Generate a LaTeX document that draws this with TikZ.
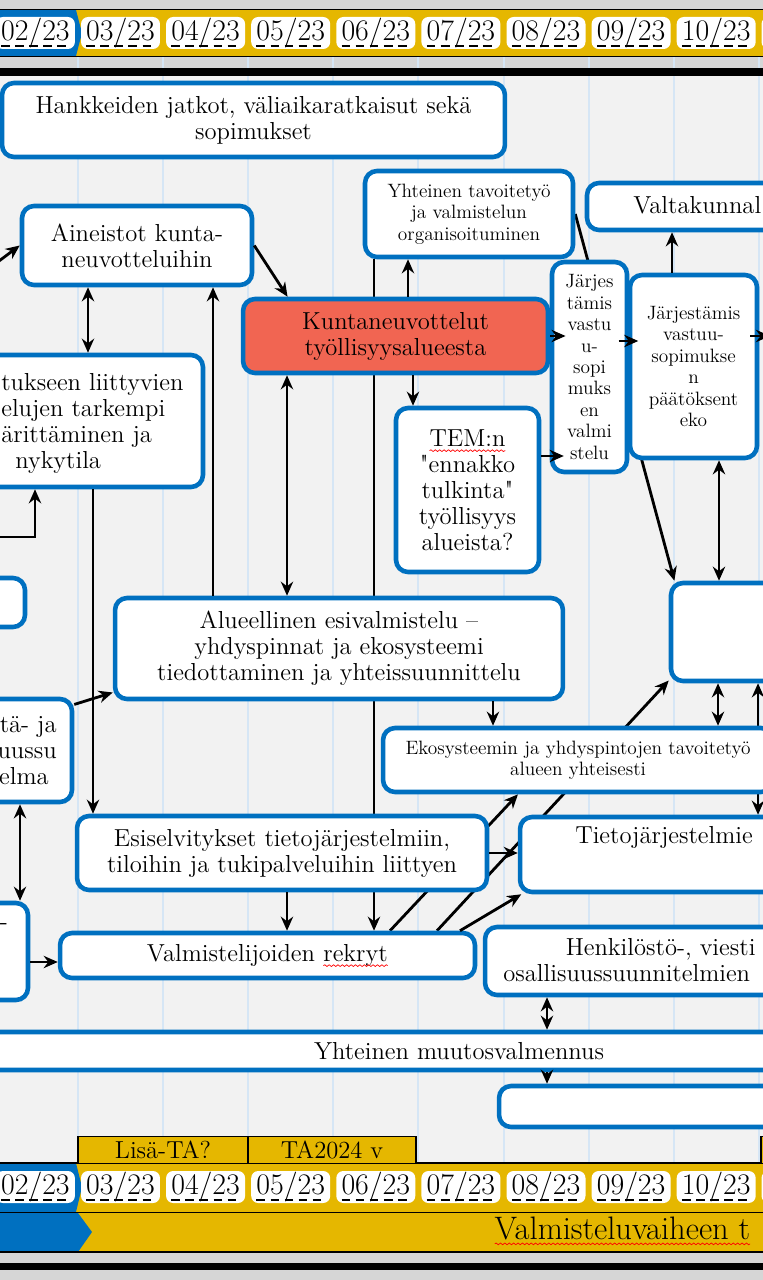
\documentclass[tikz,border=0pt]{standalone}
\usetikzlibrary{arrows.meta,decorations.pathmorphing}
\definecolor{boxblue}{RGB}{0,112,192}
\definecolor{kred}{RGB}{241,101,82}
\definecolor{gold}{RGB}{229,183,0}
\definecolor{paper}{RGB}{242,242,242}
\definecolor{framegray}{RGB}{214,214,214}
\definecolor{gridblue}{RGB}{214,230,245}
\newcommand{\bigtxt}{\fontsize{14}{14.8}\selectfont}
\newcommand{\smalltxt}{\fontsize{11}{12.2}\selectfont}
\newcommand{\datetxt}{\fontsize{17}{17}\selectfont}
\newcommand{\bandtxt}{\fontsize{18.5}{20}\selectfont}
\newcommand{\spellwave}[1]{\tikz[baseline=(sw.base)]{\node[draw=none, fill=none, inner sep=0pt, outer sep=0pt, minimum size=0pt, anchor=base, rounded corners=0pt] (sw) at (0,0) {#1};
    \draw[red, line width=0.4pt, solid, rounded corners=0pt, decorate, decoration={snake, amplitude=0.5pt, segment length=2.5pt}] ([yshift=-2.5pt]sw.base west) -- ([yshift=-2.5pt]sw.base east);}}
\pgfdeclarelayer{bg}
\pgfdeclarelayer{back}
\pgfsetlayers{bg,back,main}
\begin{document}
\begin{tikzpicture}[x=0.02cm, y=-0.02cm, >={Stealth[length=8pt,width=7pt]},
    box/.style={draw=boxblue, line width=2.6pt, fill=white, rounded corners=0.24cm, align=center, inner sep=1pt, font=\bigtxt},
    redbox/.style={box, fill=kred},
    arr/.style={line width=1.6pt},
    tab/.style={fill=white, rounded corners=4pt, minimum width=1.58cm, minimum height=0.64cm, inner sep=0pt, font=\datetxt,
        path picture={\draw[dash pattern=on 5pt off 3pt, line width=1.1pt] ([xshift=3pt,yshift=1.5pt]path picture bounding box.south west) -- ([xshift=-3pt,yshift=1.5pt]path picture bounding box.south east);}},
    budget/.style={draw, fill=gold, line width=0.8pt, minimum height=0.54cm, inner sep=0pt, font=\bigtxt}]
    \useasboundingbox (0,0) rectangle (763,1280);
    \begin{pgfonlayer}{bg}
    \fill[framegray] (0,0) rectangle (763,1280);
    \fill[paper] (0,74) rectangle (763,1252);
    \foreach \x in {78,163,248,333,418,504,589,674,759}
        \draw[gridblue, line width=1.5pt] (\x,57) -- (\x,1163);
    \end{pgfonlayer}

    \fill[gold] (0,10) rectangle (763,56);
    \fill[boxblue] (0,10) -- (76,10) -- (82,33) -- (76,56) -- (0,56) -- cycle;
    \draw[line width=0.6pt] (0,9.5) -- (763,9.5) (0,56.5) -- (763,56.5);
    \draw[line width=4pt] (0,72) -- (763,72);
    \fill[gold] (0,1163) rectangle (763,1252);
    \fill[boxblue] (0,1163) -- (76,1163) -- (82,1187) -- (76,1212) -- (0,1212) -- cycle;
    \fill[boxblue] (0,1213) -- (78,1213) -- (92,1232) -- (78,1252) -- (0,1252) -- cycle;
    \draw[line width=0.6pt] (0,1163) -- (763,1163) (0,1212.5) -- (763,1212.5) (0,1252) -- (763,1252);
    \draw[line width=4pt] (0,1266) -- (763,1266);
    \foreach \m [count=\i from 0] in {02,03,04,05,06,07,08,09,10} {
        \node[tab] (top\m) at ({35.4+85.1*\i},33) {\m/23};
        \node[tab] (bot\m) at ({35.4+85.1*\i},1187) {\m/23};
    }
    \node[tab] (top11) at (801,33) {};
    \node[tab] (bot11) at (801,1187) {};
    \node[font=\bandtxt, anchor=west, inner sep=0pt] (phase) at (494,1231) {\spellwave{Valmisteluvaiheen t}};
    \node[budget, minimum width=3.4cm] (lisa) at (163,1150) {Lisä-TA?};
    \node[budget, minimum width=3.36cm] (ta24) at (332,1150) {TA2024 v};
    \node[budget, minimum width=3.4cm] (tanext) at (846,1150) {};

    \node[box, minimum width=10.06cm, minimum height=1.48cm] (hank) at (253.5,120) {Hankkeiden jatkot, väliaikaratkaisut sekä\\sopimukset};
    \node[box, minimum width=4.6cm, minimum height=1.58cm] (aine) at (137,245.5) {Aineistot kunta-\\neuvotteluihin};
    \node[redbox, minimum width=6.1cm, minimum height=1.48cm] (kunta) at (395.5,336) {Kuntaneuvottelut\\työllisyysalueesta};
    \node[box, font=\smalltxt, minimum width=4.16cm, minimum height=1.72cm] (yhtt) at (469,214) {Yhteinen tavoitetyö\\ja valmistelun\\organisoituminen};
    \node[box, minimum width=4.26cm, minimum height=0.94cm] (valta) at (693.5,206.5) {};
    \node[font=\bigtxt, anchor=west, inner sep=0pt] (valtatxt) at (633,205) {Valtakunnal};
    \node[box, font=\smalltxt, minimum width=1.5cm, minimum height=4.2cm] (jarjes) at (589.5,367) {Järjes\\tämis\\vastu\\u-\\sopi\\muks\\en\\valmi\\stelu};
    \node[box, font=\smalltxt, minimum width=2.54cm, minimum height=3.66cm] (jpaat) at (693.5,366.5) {Järjestämis\\vastuu-\\sopimukse\\n\\päätöksent\\eko};
    \node[box, minimum width=2.86cm, minimum height=3.28cm] (tem) at (467.5,490) {\spellwave{TEM:n}\\\textquotedbl ennakko\\tulkinta\textquotedbl\\työllisyys\\alueista?};
    \node[box, minimum width=5.26cm, minimum height=2.64cm] (leftA) at (71.5,421) {};
    \node[font=\bigtxt, anchor=west, align=left, inner sep=0pt] (leftAtxt) at (1,423) {tukseen liittyvien\\elujen tarkempi\\ärittäminen ja\\\hspace*{0.28cm}nykytila};
    \node[box, minimum width=1.7cm, minimum height=0.98cm] (leftB) at (-17.5,602.5) {};
    \node[box, minimum width=2.64cm, minimum height=2.06cm] (leftC) at (6,750.5) {};
    \node[font=\bigtxt, anchor=east, align=right, inner sep=0pt] (leftCtxt) at (57,751) {tä- ja\\uussu\\elma\hspace*{0.16cm}};
    \node[box, minimum width=1.76cm, minimum height=1.94cm] (leftD) at (-16,951.5) {};
    \node[font=\bigtxt, inner sep=0pt] (leftDtxt) at (4,927) {-};
    \node[box, minimum width=8.96cm, minimum height=2.02cm] (alue) at (339,648.5) {Alueellinen esivalmistelu --\\yhdyspinnat ja ekosysteemi\\tiedottaminen ja yhteissuunnittelu};
    \node[box, minimum width=2.58cm, minimum height=1.96cm] (empR) at (735.5,632) {};
    \node[box, font=\smalltxt, minimum width=7.8cm, minimum height=1.28cm] (eko) at (578,760) {Ekosysteemin ja yhdyspintojen tavoitetyö\\alueen yhteisesti};
    \node[box, minimum width=8.2cm, minimum height=1.48cm] (esi) at (282,853) {Esiselvitykset tietojärjestelmiin,\\tiloihin ja tukipalveluihin liittyen};
    \node[box, minimum width=5.6cm, minimum height=1.5cm] (tieto) at (660,854.5) {};
    \node[font=\bigtxt, anchor=west, inner sep=0pt] (tietotxt) at (575,837) {Tietojärjestelmie};
    \node[box, minimum width=8.3cm, minimum height=0.9cm] (valm) at (267.5,955.5) {Valmistelijoiden \spellwave{rekryt}};
    \node[box, minimum width=6.3cm, minimum height=1.36cm] (henk) at (642.5,961) {};
    \node[font=\bigtxt, anchor=west, align=left, inner sep=0pt] (henktxt) at (503,960) {\hspace*{1.25cm}Henkilöstö-, viesti\\osallisuussuunnitelmien};
    \node[box, minimum width=19.16cm, minimum height=0.76cm] (muutos) at (459,1051) {Yhteinen muutosvalmennus};
    \node[box, minimum width=6.02cm, minimum height=0.82cm] (empB) at (649.5,1106.5) {};

    \coordinate (inA) at (-1,261);
    \coordinate (inB) at (-1,537);
    \coordinate (outR) at (770,336);

    \draw[arr,->] (inA) -- (aine.west);
    \draw[arr,->] (aine.east) -- (kunta.160);
    \draw[arr,<->] (aine.south -| 88,0) -- (leftA.north -| 88,0);
    \draw[arr,->] (alue.north -| 213,0) -- (aine.south -| 213,0);
    \draw[arr,<->] (kunta.south -| 287,0) -- (alue.north -| 287,0);
    \draw[arr,->] (kunta.east) -- ([xshift=9pt]kunta.east -| jarjes.west);
    \draw[arr,->] (kunta.north -| 408,0) -- (yhtt.south -| 408,0);
    \draw[arr,->] (kunta.south -| 413,0) -- (tem.north -| 413,0);
    \draw[arr,->] (tem.east |- 0,456) -- ([xshift=8pt]jarjes.west |- 0,456);
    \draw[arr,->] ([xshift=-6pt]jarjes.east |- 0,341) -- ([xshift=6pt]jpaat.west |- 0,341);
    \draw[arr,->] (jpaat.north -| 672,0) -- (valta.south -| 672,0);
    \draw[arr,->] ([xshift=-5pt]jpaat.east |- 0,336) -- (outR);
    \draw[arr,<->] (jpaat.south -| 719,0) -- (empR.north -| 719,0);
    \draw[arr,->] (inB) -| (leftA.south -| 35,0);
    \draw[arr,->] (leftA.south -| 93,0) -- (esi.north -| 93,0);
    \draw[arr,->] (leftC.34) -- (alue.191);
    \draw[arr,<->] (leftC.south -| 20,0) -- (leftD.north -| 20,0);
    \draw[arr,->] (leftD.east |- 0,962) -- (valm.west |- 0,962);
    \draw[arr,->] (alue.south -| 493,0) -- (eko.north -| 493,0);
    \draw[arr,->] (esi.south -| 287,0) -- (valm.north -| 287,0);
    \draw[arr,->] (esi.east |- 0,853) -- (tieto.west |- 0,853);
    \draw[arr,->] (valm.north -| 460,0) -- (tieto.196);
    \draw[arr,<->] (empR.south -| 718,0) -- (eko.north -| 718,0);
    \draw[arr,<->] (henk.south -| 547,0) -- (muutos.north -| 547,0);
    \draw[arr,->] (muutos.south -| 547,0) -- (empB.north -| 547,0);
    \begin{pgfonlayer}{back}
    \draw[arr,->] (yhtt.south -| 374,0) -- (valm.north -| 374,0);
    \draw[arr,->] (yhtt.east) -- (empR.140);
    \draw[arr,->] (valm.north -| 390,0) -- (eko.south -| 518,0);
    \draw[arr,->] (valm.north -| 437,0) -- (empR.216);
    \draw[arr,<->] (empR.south -| 758,0) -- (tieto.north -| 758,0);
    \end{pgfonlayer}
\end{tikzpicture}
\end{document}
